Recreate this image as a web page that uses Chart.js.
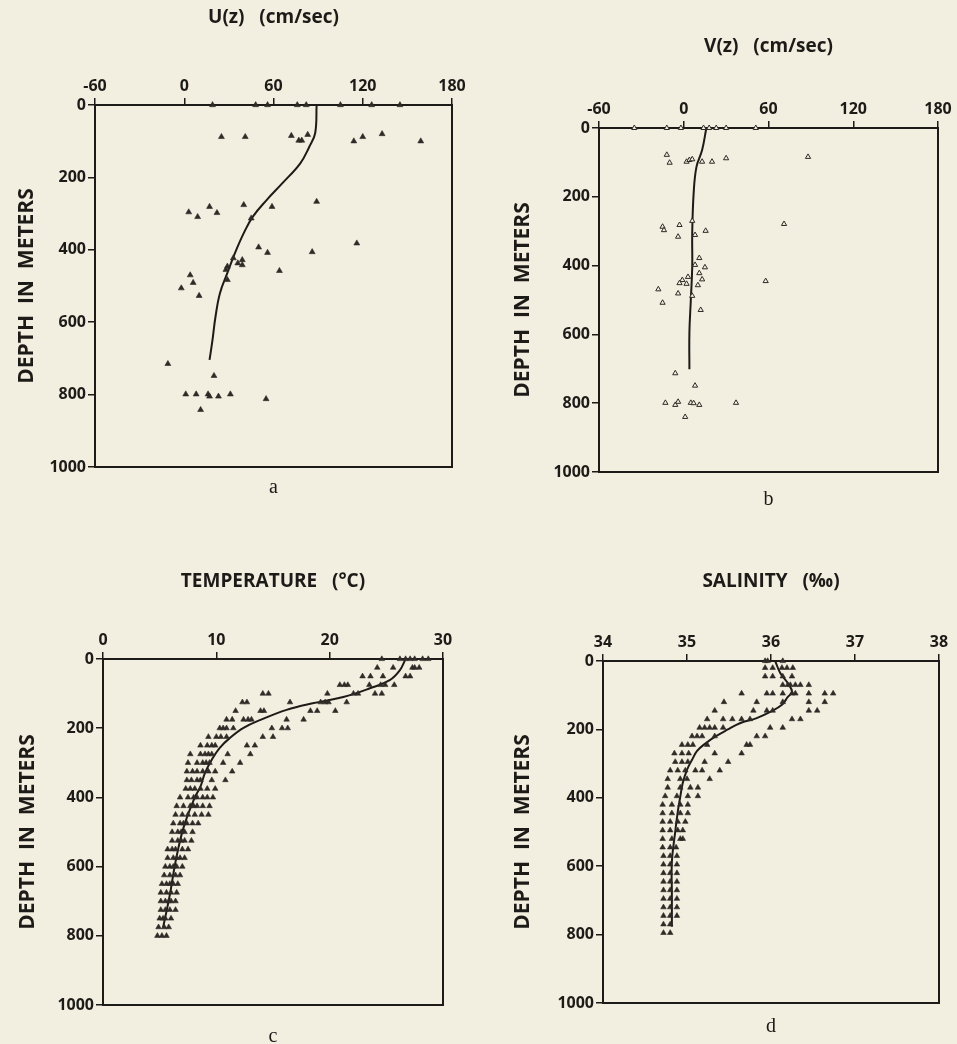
<!DOCTYPE html>
<html>
<head>
<meta charset="utf-8">
<script src="https://cdn.jsdelivr.net/npm/chart.js@4.4.1/dist/chart.umd.min.js"></script>
<style>
  html, body { margin: 0; padding: 0; background: #f2eee0; }
  body { width: 957px; height: 1044px; position: relative; overflow: hidden; }
  canvas { position: absolute; }
</style>
</head>
<body>
<canvas id="panelA"></canvas>
<canvas id="panelB"></canvas>
<canvas id="panelC"></canvas>
<canvas id="panelD"></canvas>
<script>
// tick labels
const depthTicks = [0, 200, 400, 600, 800, 1000];
const velocityTicks = [-60, 0, 60, 120, 180];
const tempTicks = [0, 10, 20, 30];
const salinityTicks = [34, 35, 36, 37, 38];

// a: U(z) observations and fitted profile
const uObsDepth = [0, 0, 0, 0, 0, 0, 0, 0,
  88, 88, 85, 98, 98, 82, 100, 88, 80, 100,
  296, 309, 281, 298, 276, 281, 267, 313,
  382, 393, 408, 406, 423, 428, 437, 442, 446, 455, 458, 483,
  470, 491, 506, 527, 715, 748,
  799, 799, 799, 805, 805, 799, 812, 842];
const uObsValue = [19, 48, 56, 76, 82, 105, 126, 145,
  25, 41, 72, 77, 79, 83, 114, 120, 133, 159,
  3, 9, 17, 22, 40, 59, 89, 45,
  116, 50, 56, 86, 33, 39, 36, 39, 29, 28, 64, 29,
  4, 6, -2, 10, -11, 20,
  1, 8, 16, 17, 23, 31, 55, 11];
const uFitDepth = [0, 78, 116, 161, 216, 262, 309, 354, 410, 464, 520, 585, 649, 704];
const uFitValue = [89, 88, 84, 78, 66, 55.5, 46, 40, 34, 29, 24, 21, 19, 17];

// b: V(z)
const vObsDepth = [0, 0, 0, 0, 0, 0, 0, 0,
  78, 101, 98, 93, 91, 98, 98, 88, 84,
  287, 297, 282, 316, 270, 299, 311, 279,
  378, 405, 398, 422, 440, 433, 442, 451, 453, 457, 445, 469, 481, 488, 508, 529,
  713, 749,
  799, 805, 796, 799, 800, 805, 799, 840];
const vObsValue = [-35, -12, -2, 14, 18, 23, 30, 51,
  -12, -10, 2, 4, 6, 13, 20, 30, 88,
  -15, -14, -3, -4, 6, 15.5, 8, 71,
  11, 15, 8, 11, 13, 3, -1, -3, 2, 10, 58, -18, -4, 6, -15, 12,
  -6, 8,
  -13, -6, -4, 5, 7, 11, 37, 1];
const vFitDepth = [0, 64, 113, 190, 306, 403, 500, 596, 701];
const vFitValue = [16, 13, 9, 7, 6, 6, 5, 4, 4];

// c: temperature, observations grouped by standard depth
const tempRowDepth = [0, 25, 50, 75, 100, 125, 150, 175, 200, 225, 250, 275, 300, 325, 350, 375,
  400, 425, 450, 475, 500, 525, 550, 575, 600, 625, 650, 675, 700, 725, 750, 775, 800];
const tempRowValues = [
  [24.6, 26.2, 26.7, 27.1, 27.5, 28.2, 28.7],
  [24.2, 25.6, 27.3, 27.5, 27.9],
  [22.9, 23.6, 24.7, 26.7, 27.1],
  [20.9, 21.3, 21.6, 23.5, 24.5, 24.9, 25.7],
  [14.1, 14.6, 19.8, 22.1, 22.5, 24.0, 24.6],
  [12.3, 12.7, 16.5, 19.2, 19.6, 19.9, 21.5],
  [11.7, 13.9, 14.2, 18.3, 18.9, 20.5],
  [10.9, 11.4, 12.4, 12.8, 13.1, 16.2, 17.7],
  [10.3, 10.6, 10.9, 11.5, 14.9, 15.8, 16.3],
  [9.3, 10.0, 10.4, 10.9, 14.1, 15.0],
  [8.6, 9.2, 9.6, 9.9, 12.7, 13.4],
  [7.7, 8.6, 9.0, 9.3, 9.6, 11.0, 13.0],
  [7.5, 8.3, 8.8, 9.1, 9.4, 10.6, 12.1],
  [7.4, 7.9, 8.3, 8.8, 9.3, 9.9, 11.4],
  [7.4, 7.8, 8.3, 8.6, 9.6, 10.8],
  [7.3, 7.7, 8.1, 8.6, 9.2, 9.9],
  [6.8, 7.5, 8.0, 8.3, 8.8, 9.2, 9.7],
  [6.5, 7.1, 7.7, 8.0, 8.3, 8.8, 9.4],
  [6.4, 7.0, 7.5, 8.1, 8.7, 9.3],
  [6.2, 6.8, 7.1, 7.4, 7.9, 8.4],
  [6.1, 6.6, 6.9, 7.2, 7.9],
  [6.1, 6.6, 6.9, 7.2, 7.8],
  [5.7, 6.1, 6.4, 7.0, 7.5],
  [5.7, 6.2, 6.5, 6.8, 7.2],
  [5.5, 5.9, 6.2, 6.5, 7.0],
  [5.4, 5.9, 6.4, 6.8],
  [5.2, 5.6, 5.9, 6.2, 6.6],
  [5.1, 5.6, 6.0, 6.5],
  [5.1, 5.5, 5.8, 6.0, 6.4],
  [5.1, 5.5, 5.9, 6.4],
  [5.0, 5.3, 5.5, 6.0],
  [4.9, 5.4, 5.8],
  [4.8, 5.2, 5.6]
];
const tempFitDepth = [0, 32, 61, 84, 110, 128, 147, 176, 199, 228, 257, 291, 329, 369, 400, 488, 586, 681, 776];
const tempFitValue = [26.7, 26.2, 25.3, 23.6, 21.2, 18.5, 16.2, 13.9, 12.4, 11.2, 10.3, 9.6, 9.0, 8.6, 8.1, 7.1, 6.4, 5.9, 5.3];

// d: salinity
const salRowDepth = [0, 20, 45, 70, 95, 120, 145, 170, 195, 220, 245, 270, 295, 320, 345, 370,
  395, 420, 445, 470, 495, 520, 545, 570, 595, 620, 645, 670, 695, 720, 745, 770, 795];
const salRowValues = [
  [35.93, 35.96, 36.14],
  [35.93, 36.02, 36.13, 36.19, 36.26],
  [35.93, 36.02, 36.14, 36.25],
  [36.14, 36.2, 36.23, 36.29, 36.35, 36.45],
  [35.65, 35.95, 36.02, 36.14, 36.25, 36.29, 36.45, 36.64, 36.74],
  [35.44, 35.83, 36.14, 36.45, 36.64],
  [35.33, 35.79, 35.95, 36.02, 36.45, 36.55],
  [35.24, 35.43, 35.54, 35.65, 35.75, 36.25, 36.35],
  [35.15, 35.21, 35.27, 35.33, 35.43, 35.99, 36.14],
  [35.06, 35.12, 35.18, 35.33, 35.83, 35.93],
  [34.94, 35.01, 35.07, 35.24, 35.71, 35.75],
  [34.85, 34.94, 35.02, 35.33, 35.65],
  [34.86, 34.94, 35.01, 35.21, 35.49],
  [34.8, 34.89, 34.98, 35.1, 35.18, 35.39],
  [34.77, 34.92, 35.0, 35.27],
  [34.77, 34.92, 35.04, 35.13],
  [34.74, 34.88, 35.01, 35.13],
  [34.71, 34.82, 34.92, 35.01],
  [34.71, 34.82, 34.92, 35.01],
  [34.71, 34.8, 34.89, 34.98],
  [34.71, 34.8, 34.89, 34.95],
  [34.71, 34.82, 34.92, 34.95],
  [34.71, 34.8, 34.87],
  [34.72, 34.8, 34.88],
  [34.72, 34.8, 34.88],
  [34.72, 34.8, 34.88],
  [34.72, 34.8, 34.88],
  [34.72, 34.8, 34.88],
  [34.72, 34.8, 34.88],
  [34.72, 34.8, 34.88],
  [34.72, 34.8, 34.88],
  [34.72, 34.8],
  [34.72, 34.8]
];
const salFitDepth = [0, 35, 65, 90, 105, 128, 149, 167, 182, 201, 222, 243, 263, 289, 318, 356, 397, 441, 499, 587, 683, 777];
const salFitValue = [36.05, 36.11, 36.2, 36.25, 36.2, 36.13, 35.99, 35.83, 35.63, 35.48, 35.33, 35.21, 35.12, 35.06, 35.0, 34.95, 34.92, 34.89, 34.86, 34.82, 34.82, 34.82];

const ink = '#1d1b18';
const paper = '#f2eee0';
const sans = '"Open Sans", "DejaVu Sans", sans-serif';
const serif = '"Liberation Serif", "DejaVu Serif", serif';

function pairs(depths, values) {
  return depths.map((d, i) => ({ x: values[i], y: d }));
}
function rowPairs(depths, rows) {
  const out = [];
  rows.forEach((row, i) => row.forEach(v => out.push({ x: v, y: depths[i] })));
  return out;
}
function tickSet(list) {
  return scale => { scale.ticks = list.map(v => ({ value: v })); };
}

// frame = canvas rect on the page, plot = wanted plot box on the page
function makePanel(id, frame, plot, o) {
  const pad = 4;
  const xFont = 19, yFont = 21, letterFont = 20;
  const yW = plot.l - frame.l - pad;
  const xH = plot.t - frame.t - pad;
  const rW = frame.l + frame.w - plot.r - pad;
  const bH = frame.t + frame.h - plot.b - pad;
  const cv = document.getElementById(id);
  cv.width = frame.w; cv.height = frame.h;
  cv.style.left = frame.l + 'px'; cv.style.top = frame.t + 'px';
  const xMin = o.xTicks[0], xMax = o.xTicks[o.xTicks.length - 1];
  const tickFont = { family: sans, size: 16, weight: 700 };
  const plain = v => String(v);
  const gridOpts = { display: true, drawOnChartArea: false, drawTicks: true, tickLength: 7, color: ink, lineWidth: 1.5 };
  const borderOpts = { display: true, width: 2, color: ink };

  new Chart(cv, {
    type: 'scatter',
    data: {
      datasets: [
        {
          data: o.obs,
          pointStyle: 'triangle',
          pointRadius: o.r,
          backgroundColor: o.open ? paper : '#2e2a26',
          borderColor: '#2e2a26',
          borderWidth: o.open ? 1 : 0.6,
          clip: false
        },
        {
          data: o.fit,
          showLine: true,
          pointRadius: 0,
          borderColor: ink,
          borderWidth: 2,
          tension: 0.4,
          fill: false
        }
      ]
    },
    options: {
      responsive: false,
      animation: false,
      layout: { padding: pad },
      plugins: { legend: { display: false }, tooltip: { enabled: false } },
      scales: {
        x: {
          type: 'linear', position: 'top', min: xMin, max: xMax,
          afterBuildTicks: tickSet(o.xTicks),
          afterFit: s => { s.height = xH; s.paddingLeft = 0; s.paddingRight = 0; },
          ticks: { color: ink, font: tickFont, padding: 2, callback: plain },
          grid: gridOpts, border: borderOpts,
          title: {
            display: true, text: o.title, color: ink,
            font: { family: sans, size: xFont, weight: 700 },
            padding: { top: o.xTitleY - frame.t - pad - xFont * 0.6, bottom: 0 }
          }
        },
        y: {
          type: 'linear', position: 'left', min: 0, max: 1000, reverse: true,
          afterBuildTicks: tickSet(depthTicks),
          afterFit: s => { s.width = yW; s.paddingTop = 0; s.paddingBottom = 0; },
          ticks: { color: ink, font: tickFont, padding: 2, callback: plain },
          grid: gridOpts, border: borderOpts,
          title: {
            display: true, text: 'DEPTH  IN  METERS', color: ink,
            font: { family: sans, size: yFont, weight: 700 },
            padding: { top: o.yTitleX - frame.l - pad - yFont * 0.6, bottom: 0 }
          }
        },
        x2: {
          type: 'linear', position: 'bottom', min: xMin, max: xMax,
          afterFit: s => { s.height = bH; s.paddingLeft = 0; s.paddingRight = 0; },
          ticks: { display: false },
          grid: { display: false }, border: borderOpts,
          title: {
            display: true, text: o.letter, color: ink,
            font: { family: serif, size: letterFont },
            padding: { top: 0, bottom: frame.t + frame.h - pad - o.letterY - letterFont * 0.6 }
          }
        },
        y2: {
          type: 'linear', position: 'right', min: 0, max: 1000, reverse: true,
          afterFit: s => { s.width = rW; s.paddingTop = 0; s.paddingBottom = 0; },
          ticks: { display: false },
          grid: { display: false }, border: borderOpts
        }
      }
    }
  });
}

makePanel('panelA', { l: 0, t: 0, w: 478, h: 520 }, { l: 95, t: 105, r: 452, b: 467 }, {
  title: 'U(z)   (cm/sec)', letter: 'a', xTicks: velocityTicks,
  obs: pairs(uObsDepth, uObsValue), fit: pairs(uFitDepth, uFitValue),
  r: 3.4, open: false, xTitleY: 18, yTitleX: 27, letterY: 488
});
makePanel('panelB', { l: 480, t: 0, w: 477, h: 520 }, { l: 599, t: 128, r: 938, b: 472 }, {
  title: 'V(z)   (cm/sec)', letter: 'b', xTicks: velocityTicks,
  obs: pairs(vObsDepth, vObsValue), fit: pairs(vFitDepth, vFitValue),
  r: 3, open: true, xTitleY: 47, yTitleX: 523, letterY: 500
});
makePanel('panelC', { l: 0, t: 540, w: 478, h: 504 }, { l: 103, t: 659, r: 443, b: 1005 }, {
  title: 'TEMPERATURE   (°C)', letter: 'c', xTicks: tempTicks,
  obs: rowPairs(tempRowDepth, tempRowValues), fit: pairs(tempFitDepth, tempFitValue),
  r: 3.2, open: false, xTitleY: 582, yTitleX: 28, letterY: 1037
});
makePanel('panelD', { l: 480, t: 540, w: 477, h: 504 }, { l: 603, t: 661, r: 939, b: 1003 }, {
  title: 'SALINITY   (‰)', letter: 'd', xTicks: salinityTicks,
  obs: rowPairs(salRowDepth, salRowValues), fit: pairs(salFitDepth, salFitValue),
  r: 3.2, open: false, xTitleY: 582, yTitleX: 523, letterY: 1027
});
</script>
</body>
</html>
